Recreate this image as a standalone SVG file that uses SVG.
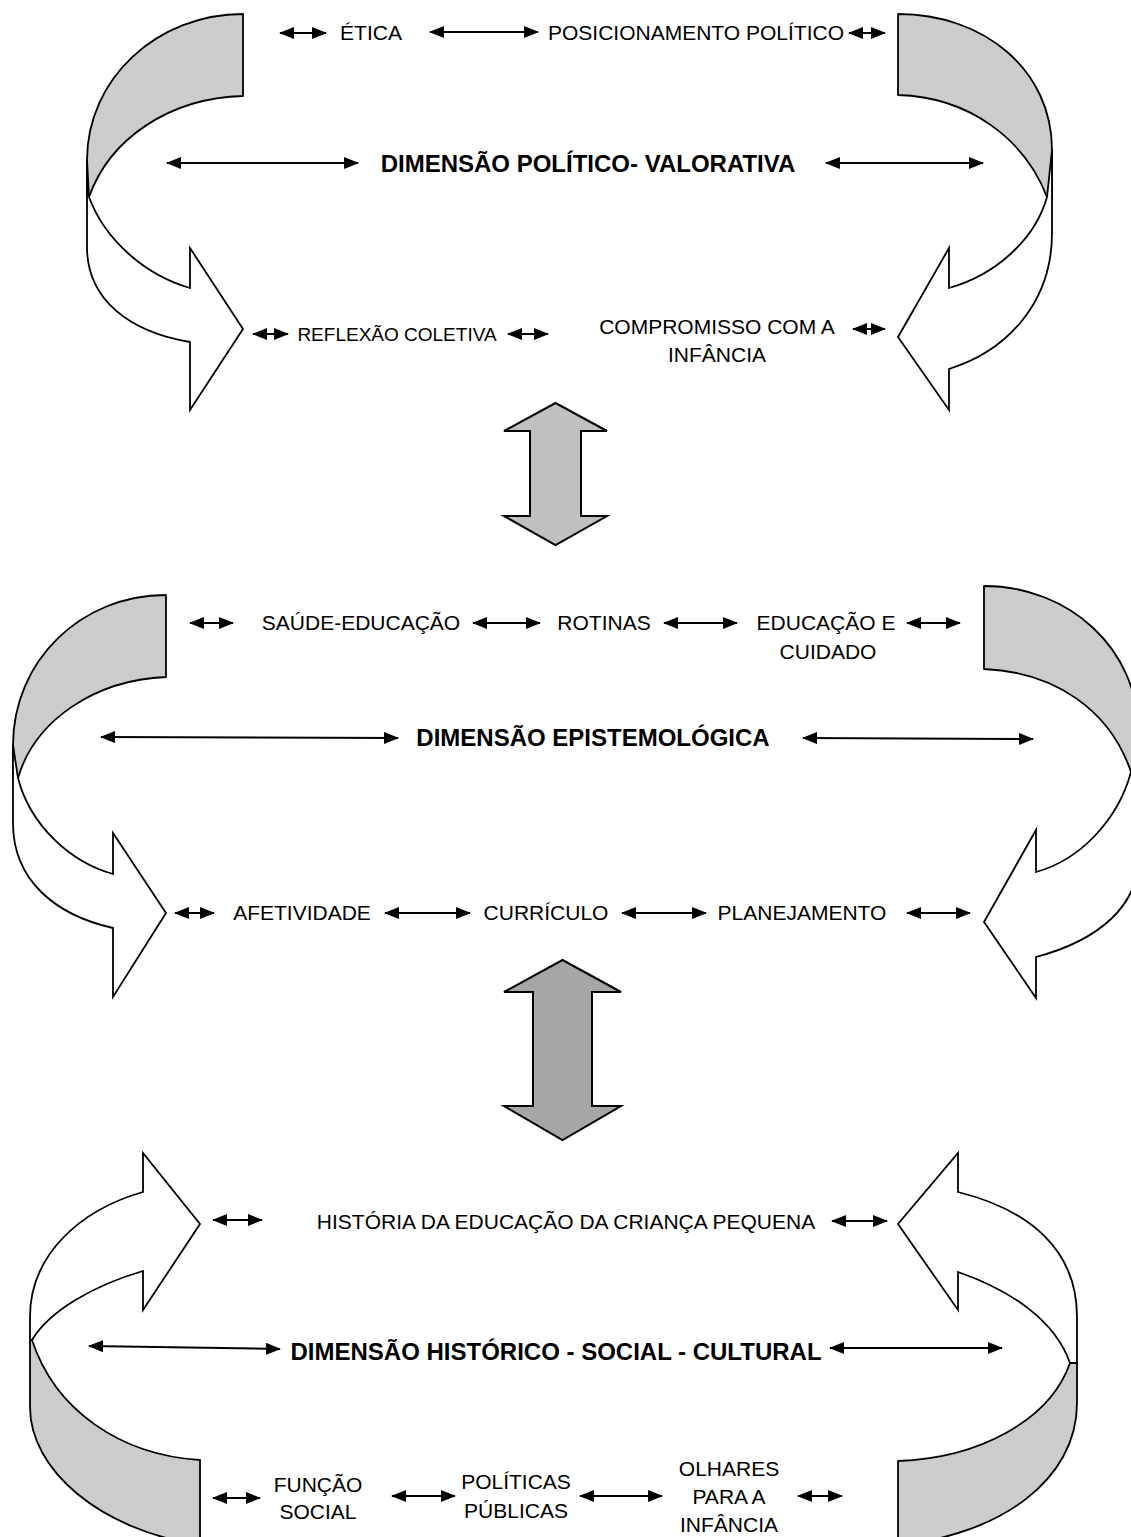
<svg xmlns="http://www.w3.org/2000/svg" width="1131" height="1537" viewBox="0 0 1131 1537">
<defs>
<marker id="ah" viewBox="0 0 15 12" markerWidth="15" markerHeight="12" refX="14" refY="6" orient="auto-start-reverse" markerUnits="userSpaceOnUse"><path d="M0,0 L15,6 L0,12 Z" fill="#000"/></marker>
<style>
.band{fill:#cccccc;stroke:#000;stroke-width:1.8;stroke-linejoin:round}
.front{fill:#fff;stroke:#000;stroke-width:1.8;stroke-linejoin:miter}
.dbl1{fill:#c0c0c0;stroke:#000;stroke-width:2}
.dbl2{fill:#a6a6a6;stroke:#000;stroke-width:2}
.c{stroke:#000;stroke-width:2;fill:none;marker-start:url(#ah);marker-end:url(#ah)}
.t{font-family:"Liberation Sans",Arial,sans-serif;font-size:21px;fill:#000;text-anchor:middle}
.b{font-family:"Liberation Sans",Arial,sans-serif;font-size:24px;font-weight:bold;fill:#000;text-anchor:middle}
</style>
</defs>
<rect width="1131" height="1537" fill="#fff"/>

<!-- Section 1 curved arrows -->
<g id="curve-l1">
<path class="band" d="M243,14 C157,14 87,79 87,160 L87,200 L89,197 C110,138 170,98 243,96 Z"/>
<path class="front" d="M87,160 L87,247 C87,300 130,332 190,342 L190,410 L243,329 L190,248 L190,288 C145,275 105,240 89,197 Z"/>
</g>
<g id="curve-r1">
<path class="band" d="M898,14 C984,14 1052,70 1052,150 L1052,200 L1047,197 C1025,140 970,97 898,95 Z"/>
<path class="front" d="M1052,150 L1052,233 C1052,300 1010,350 949,369 L949,410 L898,337 L949,248 L949,288 C995,275 1035,240 1047,197 Z"/>
</g>

<!-- Section 2 curved arrows -->
<g id="curve-l2">
<path class="band" d="M166,595 C80,595 13,662 13,745 L13,780 L18,778 C35,720 95,680 166,677 Z"/>
<path class="front" d="M13,745 L13,823 C13,880 55,915 113,928 L113,997 L166,913 L113,833 L113,874 C70,862 30,825 18,778 Z"/>
</g>
<g id="curve-r2">
<path class="band" d="M984,586 C1070,586 1138,650 1138,730 L1138,775 L1131,772 C1110,710 1055,672 984,669 Z"/>
<path class="front" d="M1138,730 L1138,860 C1138,905 1100,940 1036,957 L1036,998 L984,922 L1036,830 L1036,872 C1080,860 1118,820 1131,772 Z"/>
</g>

<!-- Section 3 curved arrows -->
<g id="curve-l3">
<path class="front" d="M143,1192 L143,1153 L200,1224 L143,1310 L143,1271 C95,1285 50,1310 32,1340 L30,1345 L30,1317 C30,1255 80,1210 143,1192 Z"/>
<path class="band" d="M30,1340 L30,1407 C30,1470 100,1530 200,1545 L200,1460 C120,1455 55,1410 32,1340 Z"/>
</g>
<g id="curve-r3">
<path class="front" d="M958,1192 L958,1153 L898,1224 L958,1310 L958,1272 C1010,1290 1055,1320 1070,1363 L1077,1363 L1077,1317 C1077,1250 1030,1210 958,1192 Z"/>
<path class="band" d="M1077,1363 L1077,1403 C1077,1480 1000,1535 898,1545 L898,1461 C980,1458 1050,1420 1070,1363 Z"/>
</g>

<!-- Gray double arrows -->
<g id="dbl-1"><path class="dbl1" d="M555.5,403 L607,431 L581,431 L581,516 L607,516 L555.5,545 L504,516 L530,516 L530,431 L504,431 Z"/></g>
<g id="dbl-2"><path class="dbl2" d="M562.5,960 L621,992 L592,992 L592,1106 L621,1106 L562.5,1140 L504,1106 L533,1106 L533,992 L504,992 Z"/></g>

<!-- Connectors -->
<g id="connectors">
<line class="c" x1="280" y1="33" x2="326" y2="33"/>
<line class="c" x1="430" y1="32" x2="538" y2="32"/>
<line class="c" x1="849" y1="33" x2="885" y2="33"/>
<line class="c" x1="167" y1="163" x2="358" y2="163"/>
<line class="c" x1="826" y1="163" x2="983" y2="163"/>
<line class="c" x1="253" y1="334" x2="288" y2="334"/>
<line class="c" x1="508" y1="334" x2="548" y2="334"/>
<line class="c" x1="853" y1="329" x2="885" y2="329"/>

<line class="c" x1="190" y1="623" x2="233" y2="623"/>
<line class="c" x1="473" y1="623" x2="540" y2="623"/>
<line class="c" x1="664" y1="623" x2="737" y2="623"/>
<line class="c" x1="907" y1="623" x2="960" y2="623"/>
<line class="c" x1="101" y1="737" x2="398" y2="738"/>
<line class="c" x1="803" y1="738" x2="1033" y2="739"/>
<line class="c" x1="175" y1="913" x2="214" y2="913"/>
<line class="c" x1="385" y1="913" x2="470" y2="913"/>
<line class="c" x1="622" y1="913" x2="706" y2="913"/>
<line class="c" x1="907" y1="913" x2="970" y2="913"/>

<line class="c" x1="213" y1="1220" x2="262" y2="1220"/>
<line class="c" x1="832" y1="1221" x2="887" y2="1221"/>
<line class="c" x1="89" y1="1346" x2="280" y2="1349"/>
<line class="c" x1="830" y1="1348" x2="1002" y2="1348"/>
<line class="c" x1="213" y1="1498" x2="260" y2="1498"/>
<line class="c" x1="392" y1="1496" x2="455" y2="1496"/>
<line class="c" x1="580" y1="1496" x2="662" y2="1496"/>
<line class="c" x1="798" y1="1496" x2="842" y2="1496"/>
</g>

<!-- Texts -->
<g id="n-etica"><text class="t" x="371" y="40">ÉTICA</text></g>
<g id="n-posicionamento"><text class="t" x="696" y="40">POSICIONAMENTO POLÍTICO</text></g>
<g id="n-dim1"><text class="b" x="588" y="172">DIMENSÃO POLÍTICO- VALORATIVA</text></g>
<g id="n-reflexao"><text class="t" x="397" y="341" style="font-size:19px">REFLEXÃO COLETIVA</text></g>
<g id="n-compromisso"><text class="t" x="717" y="334">COMPROMISSO COM A</text><text class="t" x="717" y="362">INFÂNCIA</text></g>

<g id="n-saude"><text class="t" x="361" y="630">SAÚDE-EDUCAÇÃO</text></g>
<g id="n-rotinas"><text class="t" x="604" y="630">ROTINAS</text></g>
<g id="n-educacao"><text class="t" x="826" y="630">EDUCAÇÃO E</text><text class="t" x="828" y="659">CUIDADO</text></g>
<g id="n-dim2"><text class="b" x="593" y="746">DIMENSÃO EPISTEMOLÓGICA</text></g>
<g id="n-afetividade"><text class="t" x="302" y="920">AFETIVIDADE</text></g>
<g id="n-curriculo"><text class="t" x="546" y="920">CURRÍCULO</text></g>
<g id="n-planejamento"><text class="t" x="802" y="920">PLANEJAMENTO</text></g>

<g id="n-historia"><text class="t" x="566" y="1229">HISTÓRIA DA EDUCAÇÃO DA CRIANÇA PEQUENA</text></g>
<g id="n-dim3"><text class="b" x="556" y="1360">DIMENSÃO HISTÓRICO - SOCIAL - CULTURAL</text></g>
<g id="n-funcao"><text class="t" x="318" y="1492">FUNÇÃO</text><text class="t" x="318" y="1519">SOCIAL</text></g>
<g id="n-politicas"><text class="t" x="516" y="1489">POLÍTICAS</text><text class="t" x="516" y="1518">PÚBLICAS</text></g>
<g id="n-olhares"><text class="t" x="729" y="1476">OLHARES</text><text class="t" x="729" y="1504">PARA A</text><text class="t" x="729" y="1532">INFÂNCIA</text></g>
</svg>
